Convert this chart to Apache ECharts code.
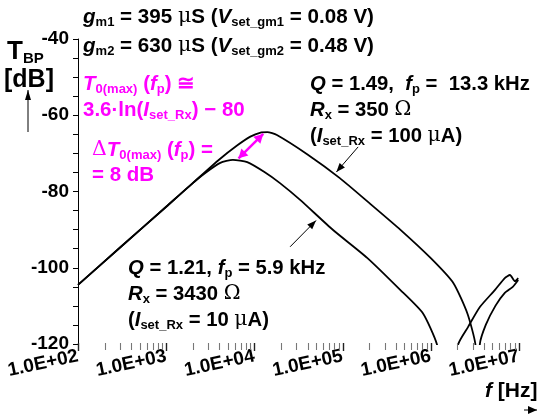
<!DOCTYPE html>
<html>
<head>
<meta charset="utf-8">
<script src="https://cdn.jsdelivr.net/npm/echarts@6/dist/echarts.min.js"></script>
<style>html,body{margin:0;padding:0;background:#fff;}#c{width:538px;height:416px;}</style>
</head>
<body>
<div id="c"></div>
<script>
// ---- data ----
// Curve A: Q = 1.49, fp = 13.3 kHz (Iset_Rx = 100 uA)
const freqA = [100, 300, 1000, 2000, 4000, 6300, 9000, 12000, 14000, 18000, 40000, 93000, 200000, 450000, 1000000, 1800000, 2600000, 3200000, 3500000, 3600000, 4200000, 5400000, 6900000, 8500000, 9800000];
const dbA   = [-104.5, -94.7, -84.0, -77.8, -71.6, -68.0, -65.6, -64.5, -64.4, -65.2, -70.3, -76.5, -83.0, -90.0, -97.5, -104.0, -112.0, -120.0, -135.0, -120.0, -115.0, -110.0, -106.6, -105.0, -103.2];
// Curve B: Q = 1.21, fp = 5.9 kHz (Iset_Rx = 10 uA)
const freqB = [100, 300, 1000, 2000, 2750, 4100, 5700, 8300, 13000, 19500, 33000, 78000, 190000, 450000, 810000, 1170000, 1600000, 2050000, 2650000, 3600000, 5350000, 6900000, 7900000, 9000000, 9800000];
const dbB   = [-104.5, -94.7, -84.0, -77.8, -75.2, -72.5, -71.7, -72.3, -74.9, -77.8, -82.2, -90.1, -97.4, -105.8, -111.9, -120.0, -135.0, -120.0, -115.5, -110.3, -105.8, -102.7, -101.9, -103.5, -102.7];
// axes
const xMajorTicks = [100, 1000, 10000, 100000, 1000000, 10000000];
const xTickLabels = ['1.0E+02', '1.0E+03', '1.0E+04', '1.0E+05', '1.0E+06', '1.0E+07'];
const xMinorMultipliers = [2, 3, 4, 5, 6, 7, 8, 9];
const yTicks = [-120, -100, -80, -60, -40];

const xMinorTicks = [];
xMajorTicks.slice(0, -1).forEach(d => xMinorMultipliers.forEach(k => xMinorTicks.push(d * k)));

const FONT = 'Liberation Sans, Arial, sans-serif';
const MAG = '#ff00ff';

const chart = echarts.init(document.getElementById('c'), null, {renderer: 'canvas'});
const zip = (xs, ys) => xs.map((x, i) => [x, ys[i]]);

chart.setOption({
  animation: false,
  backgroundColor: '#fff',
  grid: {left: 78, right: 19, top: 39, bottom: 72, containLabel: false},
  xAxis: {
    type: 'log', logBase: 10, min: 100, max: 1e7, position: 'bottom',
    axisLine: {show: false},
    axisTick: {show: false},
    axisLabel: {
      show: true, rotate: 12, margin: 12,
      formatter: v => xTickLabels[xMajorTicks.findIndex(t => Math.abs(t - v) / t < 1e-6)] || '',
      fontFamily: FONT, fontWeight: 'bold', fontSize: 19, color: '#000'
    },
    splitLine: {show: false}, minorTick: {show: false}
  },
  yAxis: {
    type: 'value', min: -120, max: -40, interval: 20,
    axisLine: {show: true, lineStyle: {color: '#000', width: 1}},
    axisTick: {show: true, length: 5, lineStyle: {color: '#000'}},
    minorTick: {show: true, splitNumber: 4, length: 5, lineStyle: {color: '#000'}},
    splitLine: {show: false},
    axisLabel: {fontFamily: FONT, fontWeight: 'bold', fontSize: 19, color: '#000', margin: 9,
      formatter: v => yTicks.includes(v) ? String(v) : ''}
  },
  series: [
    {type: 'line', name: 'A', data: zip(freqA, dbA), showSymbol: false, smooth: 0.2, clip: true,
     lineStyle: {color: '#000', width: 1.8}},
    {type: 'line', name: 'B', data: zip(freqB, dbB), showSymbol: false, smooth: 0.2, clip: true,
     lineStyle: {color: '#000', width: 1.8}}
  ]
});

// ---- annotations ----
function mk(size) {
  const base = {fontFamily: FONT, fontWeight: 'bold', fontSize: size, fill: '#000'};
  const sub = Math.round(size * 0.65), pad = Math.round(size * 0.55);
  return {
    b: Object.assign({}, base),
    bi: Object.assign({}, base, {fontStyle: 'italic'}),
    s: Object.assign({}, base, {fontSize: sub, padding: [pad, 0, 0, 0]}),
    mu: Object.assign({}, base, {fontFamily: 'DejaVu Serif, serif', fontWeight: 'normal'}),
    m: Object.assign({}, base, {fill: MAG}),
    mi: Object.assign({}, base, {fill: MAG, fontStyle: 'italic'}),
    ms: Object.assign({}, base, {fill: MAG, fontSize: sub, padding: [pad, 0, 0, 0]}),
    mg: Object.assign({}, base, {fill: MAG, fontFamily: 'DejaVu Serif, serif', fontWeight: 'normal'}),
    T: Object.assign({}, base, {fontSize: 26}),
    Ts: Object.assign({}, base, {fontSize: 15, padding: [14, 0, 0, 0]}),
    big: Object.assign({}, base, {fontSize: 25}),
    xn: Object.assign({}, base, {fontSize: 21, fontStyle: 'italic'}),
    xb: Object.assign({}, base, {fontSize: 21})
  };
}
function txt(x, y, t, size) {
  return {type: 'text', x: x, y: y, silent: true, z: 10,
    style: {text: t, rich: mk(size || 20), verticalAlign: 'middle', align: 'left', font: 'bold 20px ' + FONT}};
}
function arrowHead(tip, from, len, wid, color) {
  const dx = tip[0] - from[0], dy = tip[1] - from[1];
  const L = Math.hypot(dx, dy), ux = dx / L, uy = dy / L;
  const bx = tip[0] - ux * len, by = tip[1] - uy * len;
  return {type: 'polygon', silent: true, z: 11,
    shape: {points: [tip, [bx - uy * wid, by + ux * wid], [bx + uy * wid, by - ux * wid]]},
    style: {fill: color}};
}
function arrow(p0, p1, color, width, both, len, wid) {
  const out = [{type: 'line', silent: true, z: 11, shape: {x1: p0[0], y1: p0[1], x2: p1[0], y2: p1[1]},
    style: {stroke: color, lineWidth: width}}];
  out.push(arrowHead(p1, p0, len, wid, color));
  if (both) out.push(arrowHead(p0, p1, len, wid, color));
  return out;
}
const px = (f, db) => chart.convertToPixel({xAxisIndex: 0, yAxisIndex: 0}, [f, db]);

// x-axis ticks placed through the axis scale (drawn as short segments, like arrows)
function xTick(v, major) {
  const p = px(v, -120);
  const x = Math.round(p[0]) + 0.5;
  return {type: 'line', silent: true, z: 12,
    shape: {x1: x, y1: p[1] - 1, x2: x, y2: p[1] + (major ? 7 : 6)},
    style: {stroke: major ? '#222' : '#777', lineWidth: major ? 1.4 : 1.1}};
}

// arrow anchors in data space
const magArrow = [[6600, -71.3], [12600, -64.9]];
const arrA = [[150000, -68.3], [85000, -74.9]];
const arrB = [[25400, -94.5], [50000, -87.6]];

let g = [
  txt(83, 17, '{bi|g}{s|m1}{b| = 395 }{mu|μ}{b|S (}{bi|V}{s|set_gm1}{b| = 0.08 V)}', 20.6),
  txt(83, 46, '{bi|g}{s|m2}{b| = 630 }{mu|μ}{b|S (}{bi|V}{s|set_gm2}{b| = 0.48 V)}', 20.6),
  txt(83, 84, '{mi|T}{ms|0(max)}{m| (}{mi|f}{ms|p}{m|) ≅}', 20.5),
  txt(83, 110, '{m|3.6·ln(}{mi|I}{ms|set_Rx}{m|) − 80}', 20.5),
  txt(92, 150, '{mg|Δ}{mi|T}{ms|0(max)}{m| (}{mi|f}{ms|p}{m|) =}', 20.5),
  txt(92, 175, '{m|= 8 dB}', 20.5),
  txt(310, 84, '{bi|Q}{b| = 1.49,  }{bi|f}{s|p}{b| =  13.3 kHz}', 20.3),
  txt(310, 110, '{bi|R}{s|x}{b| = 350 }{mu|Ω}', 20.3),
  txt(310, 136, '{b|(}{bi|I}{s|set_Rx}{b| = 100 }{mu|μ}{b|A)}', 20.3),
  txt(128, 268, '{bi|Q}{b| = 1.21, }{bi|f}{s|p}{b| = 5.9 kHz}', 20.3),
  txt(128, 294, '{bi|R}{s|x}{b| = 3430 }{mu|Ω}', 20.3),
  txt(128, 320, '{b|(}{bi|I}{s|set_Rx}{b| = 10 }{mu|μ}{b|A)}', 20.3),
  txt(7, 52, '{T|T}{Ts|BP}'),
  txt(4, 80, '{big|[dB]}'),
  txt(485, 391, '{xn|f}{xb| [Hz]}')
];
g = g.concat(arrow([28, 132], [28, 90], '#000', 1, false, 10, 3));
g = g.concat(arrow([524, 410], [537, 410], '#000', 1, false, 9, 4));
g = g.concat(arrow(px(...magArrow[0]), px(...magArrow[1]), MAG, 2.5, true, 9, 5));
g = g.concat(arrow(px(...arrA[0]), px(...arrA[1]), '#000', 1, false, 9, 3.5));
g = g.concat(arrow(px(...arrB[0]), px(...arrB[1]), '#000', 1, false, 9, 3.5));
g = g.concat(xMajorTicks.map(v => xTick(v, true)));
g = g.concat(xMinorTicks.map(v => xTick(v, false)));
chart.setOption({graphic: {elements: g}});
</script>
</body>
</html>
